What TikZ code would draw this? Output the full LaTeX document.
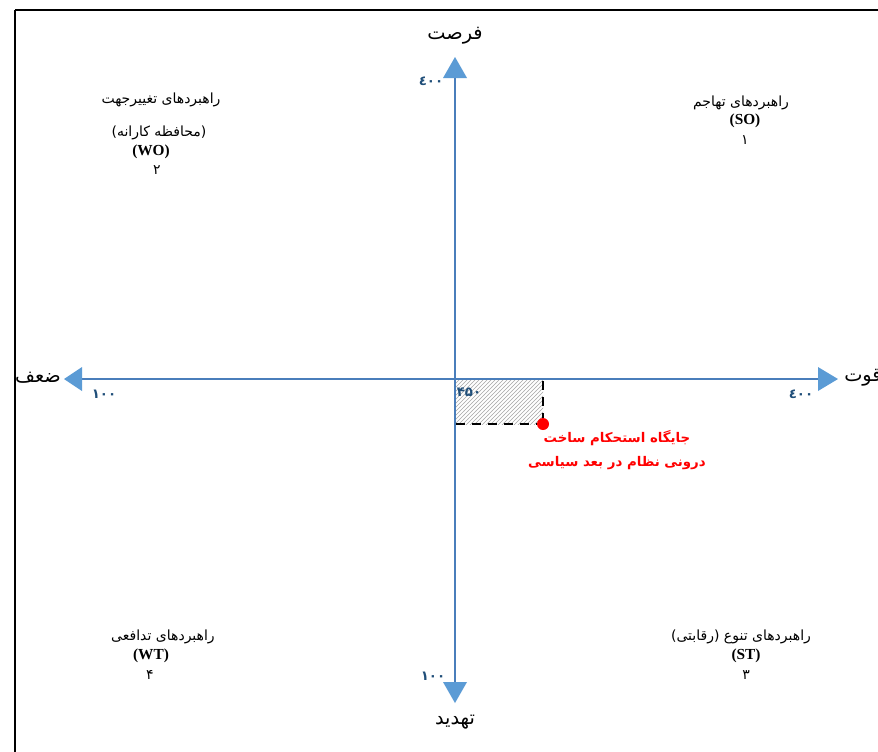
\documentclass[tikz,border=0pt]{standalone}
\usepackage{fontspec}
\setmainfont{Liberation Serif}
\newfontfamily\arabicfont[Script=Arabic]{DejaVu Sans}
\newfontfamily\arabicbold[Script=Arabic]{DejaVu Sans Bold}
\TeXXeTstate=1
\usetikzlibrary{patterns}
\definecolor{axisblue}{HTML}{4A7EBB}
\definecolor{tipblue}{HTML}{5B9BD5}
\definecolor{numblue}{HTML}{1F4E79}
\tikzset{
  quad/.style={font=\arabicfont\fontsize{10.5}{12}\selectfont, inner sep=0pt},
  latin/.style={font=\bfseries\fontsize{11.5}{12}\selectfont, inner sep=0pt},
  axlabel/.style={font=\arabicfont\fontsize{14.5}{16}\selectfont, inner sep=0pt},
  num/.style={font=\arabicbold\fontsize{10}{11}\selectfont, text=numblue, inner sep=0pt},
  axisline/.style={draw=axisblue, line width=0.8pt},
  tip/.style={fill=tipblue, draw=none},
}
\begin{document}
\begin{tikzpicture}[x=0.75pt,y=-0.75pt]
\useasboundingbox (0,0) rectangle (878,751);
\fill[white] (0,0) rectangle (878,751);
% frame
\draw[line width=1.5pt] (15,10) -- (15,760);
\draw[line width=1.5pt] (15,10) -- (890,10);
% hatched region
\fill[pattern=north east lines, pattern color=gray!70] (456,379) rectangle (543,424);
% axes
\coordinate (top) at (455,78);
\coordinate (bot) at (455,682);
\coordinate (lft) at (82,379);
\coordinate (rgt) at (818,379);
\draw[axisline] (top) -- (bot);
\draw[axisline] (lft) -- (rgt);
\fill[tip] (455,57) -- (443,78) -- (467,78) -- cycle;
\fill[tip] (455,703) -- (443,682) -- (467,682) -- cycle;
\fill[tip] (64,379) -- (82,367) -- (82,391) -- cycle;
\fill[tip] (838,379) -- (818,367) -- (818,391) -- cycle;
% position
\coordinate (pcorner) at (456,424);
\coordinate (ptop) at (543,381);
\coordinate (pc) at (543,424);
\draw[dashed, line width=1.3pt, dash pattern=on 7pt off 5pt] (ptop) -- (pc);
\draw[dashed, line width=1.3pt, dash pattern=on 7pt off 5pt] (pcorner) -- (pc);
\node[circle, fill=red, inner sep=0pt, minimum size=9pt] (pt) at (pc) {};
\node[font=\arabicbold\fontsize{10}{12}\selectfont, text=red, align=center, inner sep=0pt] (plabel) at (617,450)
  {\beginR جایگاه استحکام ساخت\endR\\[6pt]\beginR درونی نظام در بعد سیاسی\endR};
% axis labels
\node[axlabel] (opp) at (455,36) {\beginR فرصت\endR};
\node[axlabel] (thr) at (455,722) {\beginR تهدید\endR};
\node[axlabel] (wk) at (38,378) {\beginR ضعف\endR};
\node[axlabel] (st) at (863,378) {\beginR قوت\endR};
% numbers
\node[num] (n1) at (431,81) {٤٠٠};
\node[num] (n2) at (104,394) {١٠٠};
\node[num] (n3) at (801,394) {٤٠٠};
\node[num] (n4) at (433,676) {١٠٠};
\node[num] (n5) at (469,392) {۴۵۰};
% quadrants
\node[quad] (q2a) at (161,100) {\beginR راهبردهای تغییرجهت\endR};
\node[quad] (q2b) at (159,133) {\beginR (محافظه کارانه)\endR};
\node[latin] (q2c) at (151,152) {(WO)};
\node[quad] (q2d) at (157,170) {۲};
\node[quad] (q1a) at (741,103) {\beginR راهبردهای تهاجم\endR};
\node[latin] (q1b) at (745,121) {(SO)};
\node[quad] (q1c) at (745,140) {۱};
\node[quad] (q4a) at (163,637) {\beginR راهبردهای تدافعی\endR};
\node[latin] (q4b) at (151,656) {(WT)};
\node[quad] (q4c) at (150,675) {۴};
\node[quad] (q3a) at (741,637) {\beginR راهبردهای تنوع (رقابتی)\endR};
\node[latin] (q3b) at (746,656) {(ST)};
\node[quad] (q3c) at (746,675) {۳};
\end{tikzpicture}
\end{document}
